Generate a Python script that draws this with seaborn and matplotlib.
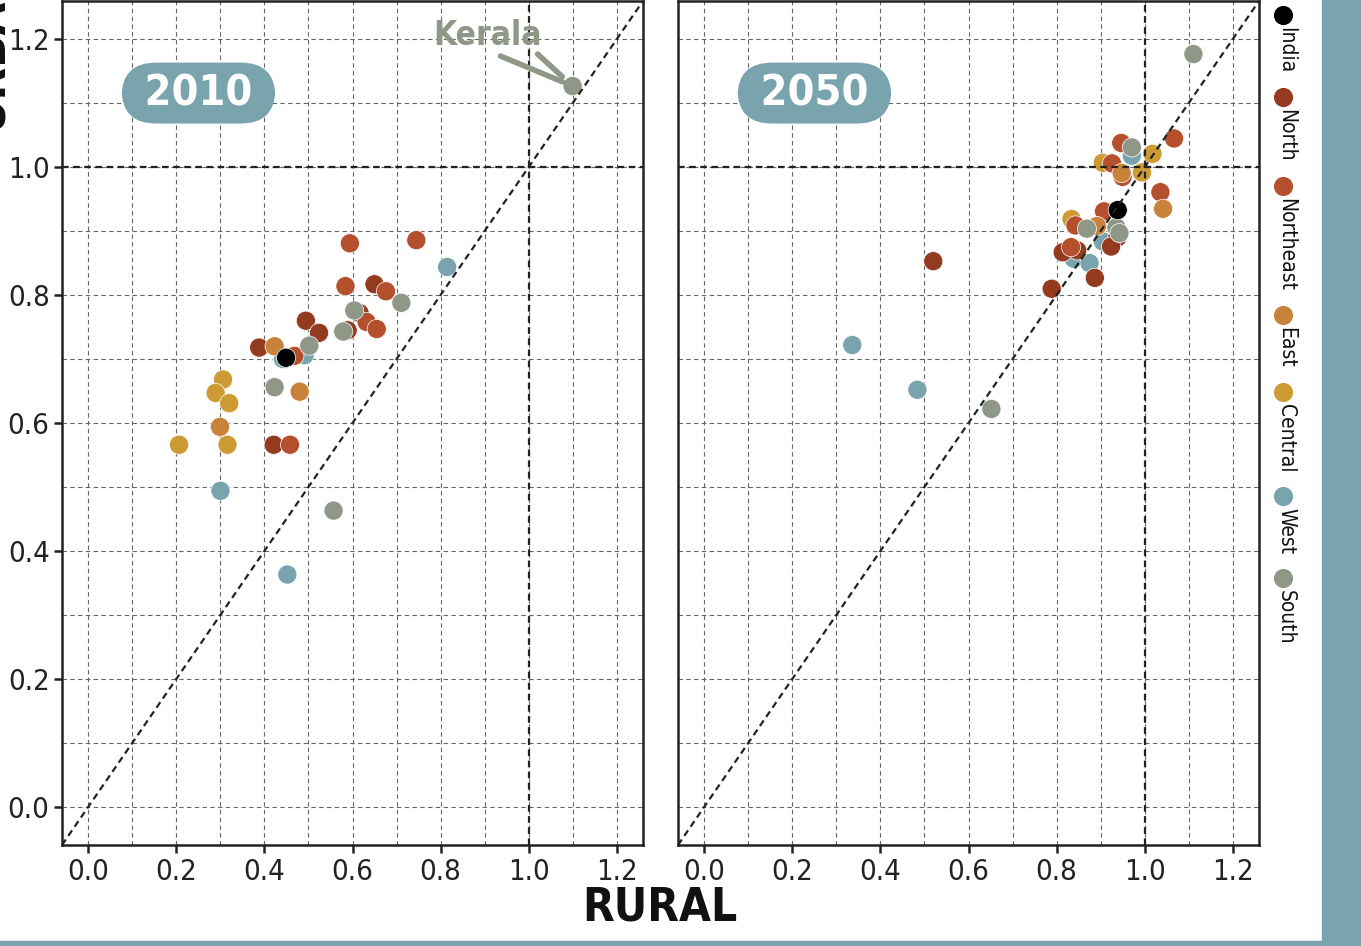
import numpy as np
import pandas as pd
import matplotlib
matplotlib.use("Agg")
import matplotlib.pyplot as plt
import seaborn as sns
from matplotlib.patches import Rectangle
from matplotlib.ticker import FormatStrFormatter

# ================= DATA =================
REGIONS = ["India", "North", "Northeast", "East", "Central", "West", "South"]
COLORS = ["#000000", "#933a1f", "#b5502f", "#c8823a", "#cc9b33", "#79a4ae", "#8f9787"]
TEAL = "#79a3ad"

# 2010 (ordered West, North, Northeast, East, Central, South, India)
region_2010 = (["West"] * 5 + ["North"] * 7 + ["Northeast"] * 8 + ["East"] * 3
               + ["Central"] * 5 + ["South"] * 7 + ["India"])
rural_2010 = [0.815, 0.491, 0.442, 0.300, 0.452,
              0.650, 0.616, 0.494, 0.524, 0.589, 0.388, 0.421,
              0.594, 0.745, 0.584, 0.676, 0.632, 0.655, 0.468, 0.458,
              0.423, 0.480, 0.299,
              0.306, 0.289, 0.320, 0.206, 0.316,
              0.711, 0.604, 0.579, 0.502, 0.423, 0.557, 1.100,
              0.449]
urban_2010 = [0.844, 0.706, 0.700, 0.494, 0.363,
              0.817, 0.772, 0.760, 0.741, 0.745, 0.718, 0.566,
              0.881, 0.886, 0.814, 0.806, 0.758, 0.747, 0.705, 0.566,
              0.720, 0.649, 0.594,
              0.668, 0.647, 0.631, 0.566, 0.566,
              0.788, 0.776, 0.743, 0.721, 0.656, 0.463, 1.127,
              0.702]

# 2050 (ordered West, Central, North, Northeast, East, South, India)
region_2050 = (["West"] * 6 + ["Central"] * 4 + ["North"] * 7 + ["Northeast"] * 8
               + ["East"] * 3 + ["South"] * 6 + ["India"])
rural_2050 = [0.971, 0.905, 0.839, 0.875, 0.336, 0.484,
              1.018, 0.905, 0.994, 0.834,
              0.938, 0.924, 0.814, 0.847, 0.887, 0.789, 0.520,
              1.067, 0.947, 0.926, 0.950, 1.036, 0.908, 0.843, 0.833,
              0.948, 1.042, 0.892,
              0.971, 0.869, 0.936, 0.943, 1.111, 0.652,
              0.939]
urban_2050 = [1.018, 0.884, 0.857, 0.850, 0.722, 0.652,
              1.021, 1.007, 0.992, 0.919,
              0.890, 0.876, 0.867, 0.870, 0.827, 0.810, 0.853,
              1.045, 1.038, 1.006, 0.985, 0.961, 0.931, 0.909, 0.875,
              0.991, 0.935, 0.908,
              1.031, 0.904, 0.906, 0.897, 1.177, 0.622,
              0.933]

KERALA = (1.100, 1.127)

# ================= STYLE =================
sns.set_theme(style="white")
plt.rcParams["font.family"] = ["DejaVu Sans"]
plt.rcParams["font.stretch"] = "condensed"

W, H = 1361, 946
palette = dict(zip(REGIONS, COLORS))

fig = plt.figure(figsize=(W / 100, H / 100), dpi=100)
ax1 = fig.add_axes([62 / W, 1 - 845 / H, 581 / W, 844 / H])
ax2 = fig.add_axes([678 / W, 1 - 845 / H, 581 / W, 844 / H])

panels = [(ax1, region_2010, rural_2010, urban_2010, "2010"),
          (ax2, region_2050, rural_2050, urban_2050, "2050")]

for ax, reg, rur, urb, year in panels:
    df = pd.DataFrame({"region": reg, "rural": rur, "urban": urb})
    sns.scatterplot(data=df, x="rural", y="urban", hue="region", palette=palette,
                    s=190, edgecolor="white", linewidth=0.5, alpha=1,
                    legend=False, ax=ax, zorder=2)
    ax.set_xlim(-0.06, 1.26)
    ax.set_ylim(-0.06, 1.26)
    ax.set_xticks(np.arange(0, 1.21, 0.2))
    ax.set_yticks(np.arange(0, 1.21, 0.2))
    ax.set_xticks(np.arange(0, 1.21, 0.1), minor=True)
    ax.set_yticks(np.arange(0, 1.21, 0.1), minor=True)
    ax.xaxis.set_major_formatter(FormatStrFormatter("%.1f"))
    ax.yaxis.set_major_formatter(FormatStrFormatter("%.1f"))
    ax.set_axisbelow(True)
    ax.grid(True, which="both", color="#666666", linestyle=(0, (4, 3)), linewidth=0.8)
    ax.tick_params(which="major", length=6, width=1.8, color="#222222",
                   labelsize=21, labelcolor="#222222", pad=3,
                   bottom=True, left=True)
    ax.tick_params(which="minor", length=0)
    for sp in ax.spines.values():
        sp.set_visible(True)
        sp.set_color("#222222")
        sp.set_linewidth(1.8)
    ax.set_xlabel("")
    ax.set_ylabel("")

    # reference lines: parity and 1.0
    ax.axline((0, 0), slope=1, color="#222222", lw=1.6, dashes=(3, 2), zorder=3)
    ax.axhline(1.0, color="#222222", lw=1.6, dashes=(3, 2), zorder=3)
    ax.axvline(1.0, color="#222222", lw=1.6, dashes=(3, 2), zorder=3)

    # year badge
    ax.text(0.25, 1.116, " " + year + " ", ha="center", va="center", fontsize=31,
            weight="bold", color="white", zorder=6,
            bbox=dict(boxstyle="round,pad=0.22,rounding_size=0.8", fc=TEAL, ec="none"))

ax2.tick_params(axis="y", left=False, labelleft=False)

# Kerala callout: shaft plus one barb
ax1.annotate("", xy=KERALA, xytext=(-72, 30), textcoords="offset pixels",
             arrowprops=dict(arrowstyle="-", color="#8f9787", lw=4,
                             shrinkA=0, shrinkB=8), zorder=6)
ax1.annotate("", xy=KERALA, xytext=(-35, 32), textcoords="offset pixels",
             arrowprops=dict(arrowstyle="-", color="#8f9787", lw=4,
                             shrinkA=0, shrinkB=10), zorder=6)
ax1.annotate("Kerala", xy=KERALA, xytext=(-85, 51), textcoords="offset pixels",
             ha="center", va="center", fontsize=24, weight="bold",
             color="#8f9787", zorder=6)

# axis titles (URBAN is mostly cut off at the left edge, as in the original)
fig.text(660 / W, 1 - 908 / H, "RURAL", ha="center", va="center",
         fontsize=33, weight="bold", color="#111111")
fig.text(2 / W, 1 - 130 / H, "URBAN", rotation=90, rotation_mode="anchor",
         ha="left", va="baseline", fontsize=34, weight="bold", color="#111111")

# frame bands
fig.add_artist(Rectangle((1322 / W, 0), 1 - 1322 / W, 1, transform=fig.transFigure,
                         color=TEAL, zorder=0))
fig.add_artist(Rectangle((0, 0), 1, 5 / H, transform=fig.transFigure,
                         color=TEAL, zorder=0))

# vertical legend on the right
leg = fig.add_axes([1262 / W, 0, 45 / W, 1])
leg.set_xlim(0, 45)
leg.set_ylim(H, 0)
leg.axis("off")
renderer = fig.canvas.get_renderer()
y = 15
for name, col in zip(REGIONS, COLORS):
    leg.scatter([21], [y], s=190, color=col, linewidth=0)
    t = leg.text(24, y + 12, name, rotation=270, ha="center", va="top",
                 fontsize=15, color="#111111")
    ext = t.get_window_extent(renderer)
    y = y + 12 + ext.height + 24

fig.savefig("out.png", dpi=100)
